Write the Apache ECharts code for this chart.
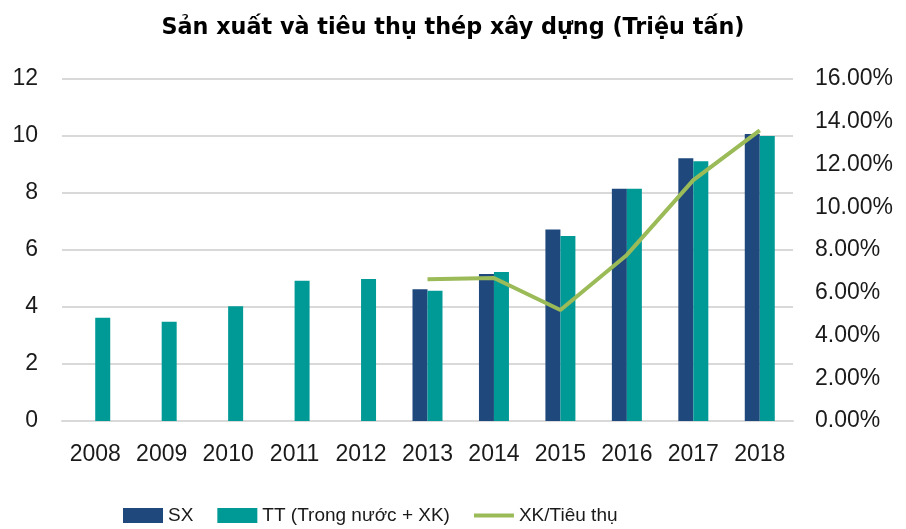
<!DOCTYPE html>
<html>
<head>
    <meta http-equiv="Content-Type" content="text/html; charset=utf-8"/>
    <title>Thép xây dựng</title>
    <style>
        html, body { margin: 0; padding: 0; background: #fff; }
        #main { width: 906px; height: 529px; }
    </style>
    <script src="https://cdn.jsdelivr.net/npm/echarts@6/dist/echarts.min.js"></script>
</head>
<body>
<div id="main"></div>
<script type="text/javascript">
    // số liệu
    var years = ['2008', '2009', '2010', '2011', '2012', '2013', '2014', '2015', '2016', '2017', '2018'];
    var sanXuat = [null, null, null, null, null, 4.62, 5.16, 6.72, 8.15, 9.22, 10.07];
    var tieuThu = [3.62, 3.48, 4.03, 4.92, 4.98, 4.57, 5.23, 6.49, 8.15, 9.11, 10.0];
    var xkTieuThu = [null, null, null, null, null, 6.63, 6.69, 5.19, 7.77, 11.27, 13.6];

    var labelFont = "'Liberation Sans', Arial, sans-serif";

    var myChart = echarts.init(document.getElementById('main'));
    var option = {
        backgroundColor: '#fff',
        title: {
            text: 'Sản xuất và tiêu thụ thép xây dựng (Triệu tấn)',
            left: 'center',
            top: 12,
            textStyle: {
                fontFamily: "'DejaVu Sans', sans-serif",
                fontWeight: 'bold',
                fontSize: 22.3,
                color: '#000'
            }
        },
        legend: {
            left: 118,
            top: 501,
            itemWidth: 40,
            itemHeight: 15,
            itemGap: 24,
            textStyle: {
                fontFamily: labelFont,
                fontSize: 19,
                color: '#1a1a1a'
            },
            data: [
                {name: 'SX', icon: 'rect'},
                {name: 'TT (Trong nước + XK)', icon: 'rect'},
                {name: 'XK/Tiêu thụ', icon: 'path://M0,0 L40,0 L40,4 L0,4 Z'}
            ]
        },
        grid: {
            left: 62,
            right: 113,
            top: 79,
            bottom: 108
        },
        xAxis: {
            type: 'category',
            data: years,
            axisLine: {lineStyle: {color: '#d9d9d9', width: 2}},
            axisTick: {show: false},
            axisLabel: {
                interval: 0,
                margin: 22,
                fontFamily: labelFont,
                fontSize: 23,
                color: '#1a1a1a'
            }
        },
        yAxis: [
            {
                type: 'value',
                min: 0,
                max: 12,
                interval: 2,
                axisLine: {show: false},
                axisTick: {show: false},
                splitLine: {lineStyle: {color: '#d9d9d9', width: 2}},
                axisLabel: {
                    margin: 24,
                    fontFamily: labelFont,
                    fontSize: 23,
                    color: '#1a1a1a'
                }
            },
            {
                type: 'value',
                min: 0,
                max: 16,
                interval: 2,
                axisLine: {show: false},
                axisTick: {show: false},
                splitLine: {show: false},
                axisLabel: {
                    margin: 22,
                    fontFamily: labelFont,
                    fontSize: 23,
                    color: '#1a1a1a',
                    formatter: function (v) { return v.toFixed(2) + '%'; }
                }
            }
        ],
        series: [
            {
                name: 'SX',
                type: 'bar',
                barWidth: 15,
                barGap: '0%',
                itemStyle: {color: '#1f497d'},
                data: sanXuat
            },
            {
                name: 'TT (Trong nước + XK)',
                type: 'bar',
                barWidth: 15,
                barGap: '0%',
                itemStyle: {color: '#009a96'},
                data: tieuThu
            },
            {
                name: 'XK/Tiêu thụ',
                type: 'line',
                yAxisIndex: 1,
                symbol: 'none',
                lineStyle: {color: '#9bbb59', width: 4},
                itemStyle: {color: '#9bbb59'},
                data: xkTieuThu
            }
        ]
    };
    myChart.setOption(option);
</script>
</body>
</html>
